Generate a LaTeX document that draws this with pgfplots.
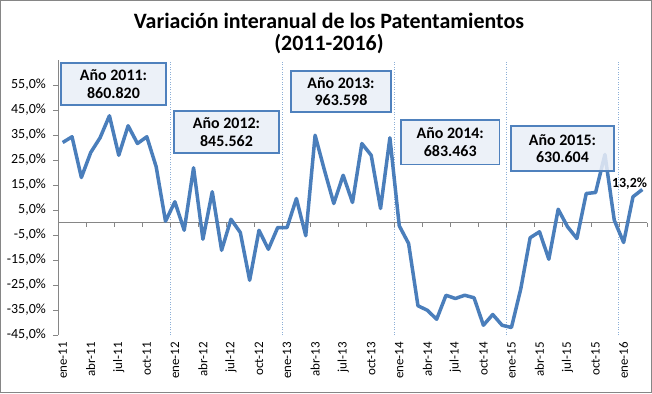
\documentclass[border=0pt]{standalone}
\usepackage{pgfplots}
\pgfplotsset{compat=1.18}
\usepackage{fontspec}
\setmainfont{Carlito}
\definecolor{serie}{RGB}{74,126,187}
\definecolor{boxborder}{RGB}{79,129,189}
\definecolor{boxfill}{RGB}{233,238,247}
\definecolor{sepcol}{RGB}{140,175,215}
\definecolor{axisgray}{RGB}{134,134,134}
\begin{document}
\begin{tikzpicture}[x=1bp,y=1bp]
\useasboundingbox (0,0) rectangle (652,393);
\draw[axisgray, line width=1bp] (0.5,0.5) rectangle (651.5,392.5);
\begin{axis}[
  at={(58bp,58bp)}, anchor=south west,
  scale only axis, width=589bp, height=275bp,
  xmin=-0.5, xmax=62.5, ymin=-45, ymax=65,
  axis x line*=bottom, axis y line*=left,
  x axis line style={draw=none},
  y axis line style={-, axisgray, line width=0.8bp},
  xtick={0,3,...,60},
  xticklabels={ene-11,abr-11,jul-11,oct-11,ene-12,abr-12,jul-12,oct-12,ene-13,abr-13,jul-13,oct-13,ene-14,abr-14,jul-14,oct-14,ene-15,abr-15,jul-15,oct-15,ene-16},
  x tick style={draw=none},
  xticklabel style={rotate=90, anchor=east, font=\fontsize{13}{15}\selectfont, inner sep=0pt, xshift=-2bp},
  ytick={-45,-35,-25,-15,-5,5,15,25,35,45,55},
  yticklabels={{-45,0\%},{-35,0\%},{-25,0\%},{-15,0\%},{-5,0\%},{5,0\%},{15,0\%},{25,0\%},{35,0\%},{45,0\%},{55,0\%}},
  y tick style={axisgray, line width=0.8bp},
  tick align=outside, major tick length=5bp,
  yticklabel style={font=\fontsize{14}{16}\selectfont, inner sep=0pt, xshift=-7bp},
  clip=false,
]
% year separators
\draw[sepcol, line width=1bp, dash pattern=on 1bp off 1.5bp] (axis cs:11.5,-45) -- (axis cs:11.5,65);
\draw[sepcol, line width=1bp, dash pattern=on 1bp off 1.5bp] (axis cs:23.5,-45) -- (axis cs:23.5,65);
\draw[sepcol, line width=1bp, dash pattern=on 1bp off 1.5bp] (axis cs:35.5,-45) -- (axis cs:35.5,65);
\draw[sepcol, line width=1bp, dash pattern=on 1bp off 1.5bp] (axis cs:47.5,-45) -- (axis cs:47.5,65);
\draw[sepcol, line width=1bp, dash pattern=on 1bp off 1.5bp] (axis cs:59.5,-45) -- (axis cs:59.5,65);
% zero line with ticks
\draw[axisgray, line width=0.8bp] (axis cs:-0.5,0) -- (axis cs:62.5,0);
\pgfplotsinvokeforeach{2.5,5.5,8.5,11.5,14.5,17.5,20.5,23.5,26.5,29.5,32.5,35.5,38.5,41.5,44.5,47.5,50.5,53.5,56.5,59.5,62.5}{
  \draw[axisgray, line width=0.8bp] (axis cs:#1,0) -- ++(0bp,-4bp);
}
\addplot[serie, line width=3.5bp, line join=round, mark=none] coordinates {
(0,32.0) (1,34.3) (2,18.0) (3,28.0) (4,33.9) (5,42.7) (6,26.9) (7,38.7) (8,31.6) (9,34.3) (10,22.3) (11,0.5)
(12,8.3) (13,-3.1) (14,21.9) (15,-6.7) (16,12.3) (17,-11.1) (18,1.3) (19,-4.0) (20,-23.1) (21,-3.1) (22,-10.7) (23,-2.0)
(24,-2.0) (25,9.6) (26,-5.3) (27,34.9) (28,20.9) (29,7.6) (30,18.9) (31,8.0) (32,31.6) (33,26.9) (34,5.6) (35,33.9)
(36,-1.3) (37,-8.4) (38,-33.3) (39,-35.1) (40,-38.7) (41,-29.1) (42,-30.4) (43,-29.1) (44,-30.1) (45,-41.1) (46,-36.8) (47,-41.1)
(48,-42.0) (49,-26.5) (50,-6.1) (51,-3.7) (52,-14.7) (53,5.3) (54,-1.7) (55,-6.4) (56,11.6) (57,12.0) (58,27.2) (59,0.9)
(60,-8.0) (61,10.3) (62,13.2)
};
\end{axis}
% title
\node[anchor=base, font=\bfseries\fontsize{22}{25}\selectfont] at (329,365) {Variación interanual de los Patentamientos};
\node[anchor=base, font=\bfseries\fontsize{22}{25}\selectfont] at (329,343) {(2011-2016)};
% year boxes
\tikzset{yb/.style={draw=boxborder, line width=1.5bp, fill=boxfill, fill opacity=0.85, text opacity=1, align=center, font=\bfseries\fontsize{16}{17.5}\selectfont, inner sep=0pt}}
\node[yb, minimum width=105bp, minimum height=42bp] at (113.5,309) {Año 2011:\\860.820};
\node[yb, minimum width=105bp, minimum height=42bp] at (226.5,261) {Año 2012:\\845.562};
\node[yb, minimum width=100bp, minimum height=41bp] at (341,301.5) {Año 2013:\\963.598};
\node[yb, minimum width=98.5bp, minimum height=44.5bp] at (450.25,250.75) {Año 2014:\\683.463};
\node[yb, minimum width=103bp, minimum height=45bp] at (562.5,244.5) {Año 2015:\\630.604};
\node[font=\bfseries\fontsize{14}{16}\selectfont, inner sep=0pt] at (629.5,209) {13,2\%};
\end{tikzpicture}
\end{document}
